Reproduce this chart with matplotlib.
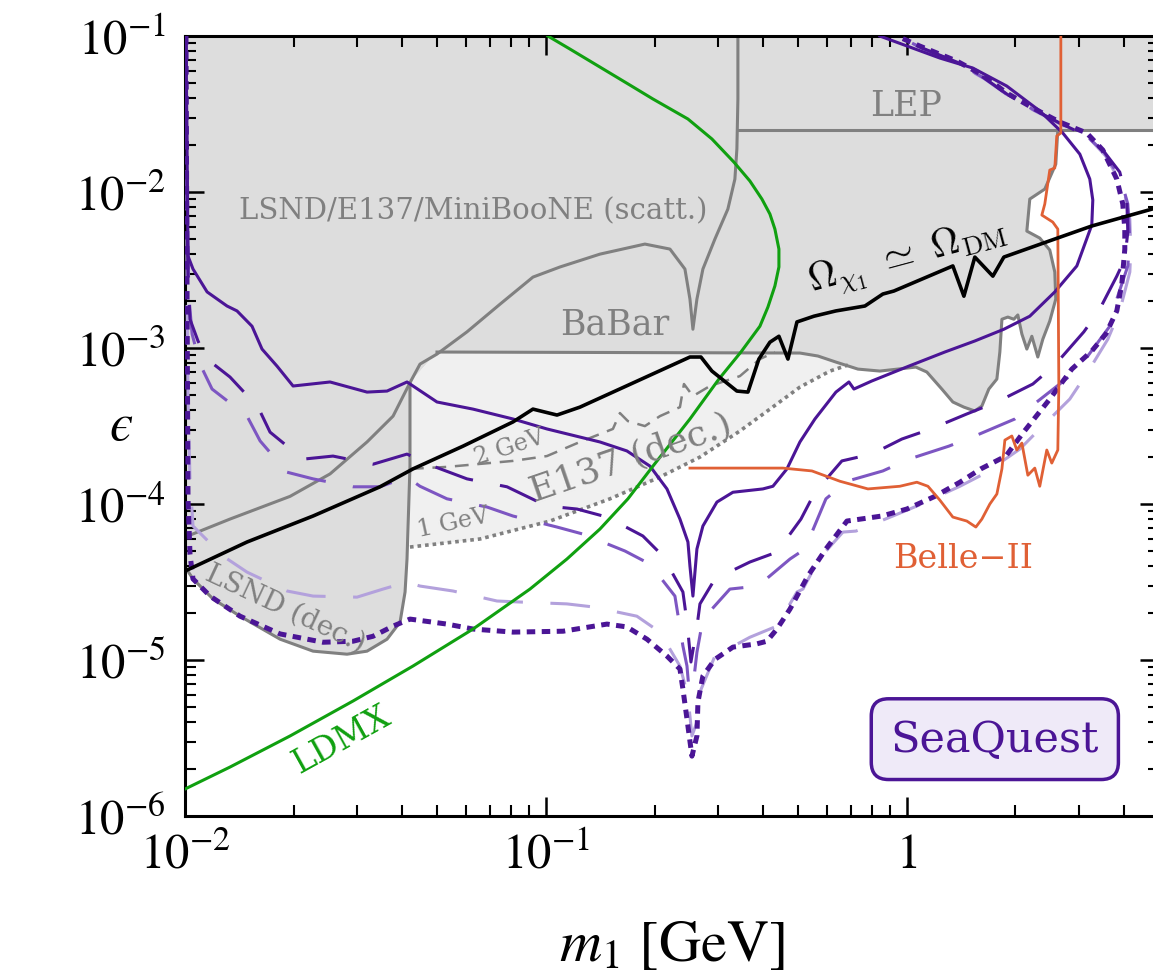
import numpy as np
import matplotlib
matplotlib.use('Agg')
import matplotlib.pyplot as plt
from matplotlib.ticker import FixedLocator, LogLocator, NullFormatter

plt.rcParams['font.family'] = ['STIXGeneral', 'DejaVu Serif']
plt.rcParams['mathtext.fontset'] = 'stix'

# ---------------- existing limits ----------------
# LSND/E137/MiniBooNE scattering boundary (runs up into the vertical edge at ~0.34 GeV)
scatt_m = [0.0100, 0.01332, 0.01954, 0.02522, 0.03193, 0.0377, 0.0420, 0.04477, 0.0499, 0.06042,
           0.07458, 0.09204, 0.1094, 0.1411, 0.188, 0.2206, 0.2427, 0.2506, 0.2554, 0.262,
           0.2722, 0.2939, 0.3192, 0.3338, 0.3381, 0.3403, 0.3403]
scatt_eps = [6.14e-5, 8.01e-5, 1.12e-4, 1.56e-4, 2.50e-4, 3.66e-4, 6.0e-4, 7.89e-4, 9.15e-4, 1.27e-3,
             1.91e-3, 2.85e-3, 3.31e-3, 4.00e-3, 4.64e-3, 4.31e-3, 3.21e-3, 2.06e-3, 1.32e-3, 2.06e-3,
             3.21e-3, 5.00e-3, 7.78e-3, 1.21e-2, 1.89e-2, 3.95e-2, 0.1]

# LSND decay region, lower edge
lsnd_m = [0.0100, 0.01052, 0.01196, 0.0142, 0.01834, 0.02263, 0.02811, 0.03193, 0.03628, 0.03942,
          0.0407, 0.04121, 0.0420, 0.0420]
lsnd_eps = [3.95e-5, 3.31e-5, 2.46e-5, 1.91e-5, 1.36e-5, 1.14e-5, 1.09e-5, 1.14e-5, 1.36e-5, 1.75e-5,
            2.73e-5, 4.44e-5, 1.75e-4, 6.0e-4]

# BaBar lower edge
babar_m = [0.0499, 0.5055, 0.567, 0.636, 0.7318, 0.8419, 1.059, 1.136, 1.25, 1.341,
           1.439, 1.543, 1.614, 1.687, 1.776, 1.81, 1.834, 1.905, 1.979, 2.03,
           2.083, 2.15, 2.22, 2.306, 2.381, 2.489, 2.586, 2.57, 2.489, 2.335,
           2.15, 2.191, 2.411, 2.586, 2.62]
babar_eps = [9.43e-4, 9.29e-4, 8.89e-4, 8.13e-4, 7.33e-4, 7.12e-4, 7.55e-4, 7.02e-4, 5.46e-4, 4.51e-4,
             4.18e-4, 3.95e-4, 4.25e-4, 5.46e-4, 6.33e-4, 9.43e-4, 1.53e-3, 1.58e-3, 1.53e-3, 1.63e-3,
             1.23e-3, 9.85e-4, 1.19e-3, 8.76e-4, 1.14e-3, 1.49e-3, 2.06e-3, 3.07e-3, 4.25e-3, 5.07e-3,
             5.62e-3, 9.02e-3, 1.045e-2, 1.51e-2, 0.025]

lep_m = [0.3403, 5.0]
lep_eps = [0.025, 0.025]

# E137 decay, 1 GeV (dotted) and 2 GeV (dashed)
e137_1gev_m = [0.042, 0.06566, 0.1026, 0.1504, 0.2069, 0.2671, 0.3447, 0.4174, 0.5055, 0.6122, 0.6867]
e137_1gev_eps = [5.30e-5, 5.97e-5, 7.78e-5, 1.08e-4, 1.49e-4, 2.00e-4, 2.94e-4, 4.06e-4, 5.62e-4, 7.12e-4, 7.78e-4]

e137_2gev_m = [0.042, 0.05318, 0.08101, 0.1006, 0.1242, 0.1533, 0.1603, 0.1687, 0.188, 0.2069,
               0.2351, 0.2412, 0.2554, 0.2847, 0.3447, 0.3916, 0.4309]
e137_2gev_eps = [1.68e-4, 1.73e-4, 1.89e-4, 2.03e-4, 2.50e-4, 3.03e-4, 3.83e-4, 3.40e-4, 3.16e-4, 3.66e-4,
                 4.18e-4, 5.88e-4, 4.92e-4, 5.71e-4, 6.61e-4, 8.50e-4, 9.43e-4]

# thermal relic target
relic_m = [0.0100, 0.01485, 0.02263, 0.03469, 0.04281, 0.0589, 0.08101, 0.09204, 0.1073, 0.1242,
           0.2506, 0.2688, 0.2883, 0.3381, 0.3628, 0.389, 0.4174, 0.4421, 0.4683, 0.496,
           0.5528, 0.636, 0.7653, 0.858, 0.9204, 1.341, 1.439, 1.543, 1.731, 1.857,
           2.57, 3.254, 5.0]
relic_eps = [3.72e-5, 5.71e-5, 8.38e-5, 1.29e-4, 1.68e-4, 2.35e-4, 3.36e-4, 4.06e-4, 3.72e-4, 4.18e-4,
             8.76e-4, 8.76e-4, 7.12e-4, 5.30e-4, 5.22e-4, 8.50e-4, 1.09e-3, 1.19e-3, 8.50e-4, 1.47e-3,
             1.60e-3, 1.73e-3, 1.86e-3, 2.22e-3, 2.32e-3, 3.36e-3, 2.15e-3, 3.83e-3, 2.89e-3, 3.83e-3,
             5.00e-3, 6.06e-3, 8.01e-3]

# ---------------- projections ----------------
ldmx_m = [0.1013, 0.1166, 0.1411, 0.1709, 0.1979, 0.2474, 0.2883, 0.3317, 0.3674, 0.3966,
          0.4174, 0.4309, 0.4421, 0.4421, 0.4309, 0.4121, 0.3916, 0.3469, 0.3015, 0.2506,
          0.1979, 0.1687, 0.1411, 0.1143, 0.0903, 0.06279, 0.04281, 0.0292, 0.01954, 0.01332,
          0.0100]
ldmx_eps = [0.1, 0.0825, 0.0633, 0.0485, 0.0395, 0.0294, 0.0219, 0.01556, 0.01177, 9.02e-3,
            7.23e-3, 5.79e-3, 4.31e-3, 3.31e-3, 2.50e-3, 1.83e-3, 1.38e-3, 9.43e-4, 6.33e-4, 3.51e-4,
            1.75e-4, 1.08e-4, 6.91e-5, 4.44e-5, 2.85e-5, 1.58e-5, 9.15e-6, 5.46e-6, 3.26e-6, 2.06e-6,
            1.49e-6]

belle_m = [0.2506, 0.4535, 0.5458, 0.6524, 0.7801, 0.9563, 1.066, 1.144, 1.234, 1.341,
           1.466, 1.553, 1.614, 1.698, 1.776, 1.834, 1.869, 1.954, 2.017, 2.083,
           2.164, 2.262, 2.335, 2.442, 2.521, 2.62, 2.637, 2.62, 2.537, 2.366,
           2.411, 2.489, 2.57, 2.603, 2.671, 2.671]
belle_eps = [1.70e-4, 1.70e-4, 1.63e-4, 1.40e-4, 1.25e-4, 1.30e-4, 1.38e-4, 1.30e-4, 1.06e-4, 8.25e-5,
             7.78e-5, 7.12e-5, 8.01e-5, 1.00e-4, 1.16e-4, 1.68e-4, 2.57e-4, 2.73e-4, 2.22e-4, 2.46e-4,
             1.53e-4, 1.70e-4, 1.30e-4, 2.22e-4, 1.83e-4, 2.22e-4, 5.71e-4, 5.79e-3, 6.42e-3, 7.12e-3,
             8.38e-3, 1.384e-2, 1.426e-2, 2.29e-2, 2.39e-2, 0.1]

# SeaQuest reach curves
sq_solid_m = [0.01006, 0.01013, 0.01019, 0.01052, 0.01151, 0.01307, 0.01393, 0.01533, 0.01634, 0.01798,
              0.01992, 0.02522, 0.03193, 0.03628, 0.04121, 0.0499, 0.06279, 0.08101, 0.1006, 0.1411,
              0.1676, 0.1942, 0.2164, 0.2351, 0.2474, 0.2506, 0.2554, 0.262, 0.2722, 0.2977,
              0.3296, 0.3991, 0.4255, 0.4653, 0.5055, 0.5563, 0.636, 0.691, 0.7134, 0.7998,
              1.013, 1.274, 1.543, 1.857, 2.191, 2.57, 2.958, 3.254, 3.275, 3.213,
              3.015, 2.705, 2.335, 1.892, 1.523, 1.234, 0.842]
sq_solid_eps = [0.1, 0.0189, 3.89e-3, 3.21e-3, 2.29e-3, 1.86e-3, 1.73e-3, 1.38e-3, 9.85e-4, 7.66e-4,
                5.71e-4, 6.06e-4, 5.22e-4, 5.30e-4, 6.06e-4, 4.51e-4, 4.06e-4, 3.51e-4, 3.03e-4, 2.50e-4,
                2.19e-4, 1.75e-4, 1.25e-4, 8.01e-5, 5.71e-5, 4.00e-5, 2.57e-5, 5.15e-5, 7.23e-5, 1.03e-4,
                1.19e-4, 1.25e-4, 1.30e-4, 1.68e-4, 2.50e-4, 3.51e-4, 5.22e-4, 6.06e-4, 5.46e-4, 6.15e-4,
                7.66e-4, 9.43e-4, 1.11e-3, 1.32e-3, 1.60e-3, 2.29e-3, 3.36e-3, 6.15e-3, 8.89e-3, 1.211e-2,
                1.75e-2, 2.39e-2, 3.31e-2, 4.78e-2, 6.24e-2, 7.23e-2, 0.1]

sq_dash1_m = [0.01006, 0.01013, 0.01019, 0.01032, 0.01086, 0.01151, 0.01332, 0.01593, 0.0172, 0.02123,
              0.0257, 0.03317, 0.04121, 0.04864, 0.06042, 0.07798, 0.1006, 0.1219, 0.1476, 0.1856,
              0.2109, 0.2396, 0.2459, 0.2522, 0.262, 0.2671, 0.2939, 0.3674, 0.4365, 0.5088,
              0.5563, 0.6607, 0.7556, 0.8526, 0.9686, 1.166, 1.466, 1.776, 2.234, 2.57,
              3.093, 3.403, 3.817, 4.017, 4.095, 4.069, 3.89, 3.491, 3.152, 2.654,
              2.234, 1.892, 1.624, 1.376, 1.122, 0.9382]
sq_dash1_eps = [0.1, 9.02e-3, 2.77e-3, 1.53e-3, 1.11e-3, 8.50e-4, 6.52e-4, 4.18e-4, 2.89e-4, 1.94e-4,
                2.03e-4, 1.80e-4, 2.09e-4, 1.75e-4, 1.45e-4, 1.29e-4, 9.71e-5, 9.29e-5, 8.25e-5, 6.24e-5,
                4.64e-5, 2.73e-5, 1.75e-5, 9.71e-6, 1.63e-5, 2.29e-5, 3.31e-5, 4.25e-5, 4.92e-5, 8.01e-5,
                1.19e-4, 1.89e-4, 2.03e-4, 2.25e-4, 2.61e-4, 3.03e-4, 3.78e-4, 4.51e-4, 5.88e-4, 7.78e-4,
                1.27e-3, 1.73e-3, 2.89e-3, 3.72e-3, 5.54e-3, 8.89e-3, 1.343e-2, 1.86e-2, 2.29e-2, 2.77e-2,
                3.40e-2, 4.25e-2, 5.46e-2, 6.81e-2, 8.25e-2, 0.1]

sq_dash2_m = [0.01006, 0.01013, 0.01026, 0.01046, 0.011, 0.01188, 0.01485, 0.01614, 0.01917, 0.02263,
              0.0292, 0.03469, 0.04121, 0.04477, 0.05318, 0.06865, 0.08101, 0.1073, 0.1266, 0.1655,
              0.1942, 0.2277, 0.2396, 0.2459, 0.249, 0.2554, 0.262, 0.2722, 0.3233, 0.3866,
              0.4743, 0.5219, 0.5967, 0.6823, 0.858, 1.013, 1.307, 1.543, 1.992, 2.291,
              2.828, 3.172, 3.651, 3.817, 4.095, 4.148, 4.095, 3.915, 3.52, 3.172,
              2.671, 2.248, 1.905, 1.634, 1.39, 1.13, 0.944]
sq_dash2_eps = [0.1, 6.71e-3, 2.06e-3, 1.23e-3, 7.89e-4, 5.46e-4, 3.66e-4, 2.54e-4, 1.60e-4, 1.45e-4,
                1.29e-4, 1.29e-4, 1.49e-4, 1.30e-4, 1.08e-4, 9.57e-5, 8.38e-5, 7.12e-5, 6.42e-5, 5.00e-5,
                4.12e-5, 2.57e-5, 1.23e-5, 9.15e-6, 6.52e-6, 6.71e-6, 1.12e-5, 1.83e-5, 2.85e-5, 2.98e-5,
                4.44e-5, 5.15e-5, 1.08e-4, 1.40e-4, 1.63e-4, 1.94e-4, 2.35e-4, 2.73e-4, 3.51e-4, 4.51e-4,
                6.61e-4, 8.89e-4, 1.38e-3, 2.06e-3, 3.36e-3, 5.00e-3, 8.38e-3, 1.211e-2, 1.80e-2, 2.25e-2,
                2.73e-2, 3.36e-2, 4.19e-2, 5.38e-2, 6.71e-2, 8.13e-2, 0.1]

sq_dash3_m = [0.01006, 0.01013, 0.01019, 0.01032, 0.01052, 0.01274, 0.01485, 0.01917, 0.02263, 0.02995,
              0.03536, 0.04121, 0.04477, 0.05526, 0.07317, 0.08637, 0.1143, 0.135, 0.1786, 0.2069,
              0.2351, 0.2474, 0.2538, 0.262, 0.2671, 0.2939, 0.3674, 0.4365, 0.496, 0.5153,
              0.5706, 0.665, 0.7226, 0.9146, 1.066, 1.403, 1.634, 2.056, 2.335, 2.828,
              3.172, 3.605, 3.89, 4.148, 4.174, 4.148, 3.99, 3.559, 3.213, 2.705,
              2.262, 1.918, 1.645, 1.39, 1.136, 0.95]
sq_dash3_eps = [0.1, 2.06e-3, 4.71e-4, 1.45e-4, 7.23e-5, 4.64e-5, 3.66e-5, 2.77e-5, 2.57e-5, 2.53e-5,
                2.85e-5, 3.16e-5, 2.98e-5, 2.77e-5, 2.39e-5, 2.35e-5, 2.29e-5, 2.19e-5, 1.91e-5, 1.51e-5,
                9.15e-6, 5.88e-6, 3.26e-6, 4.00e-6, 6.24e-6, 1.06e-5, 1.40e-5, 1.65e-5, 2.73e-5, 2.85e-5,
                4.44e-5, 6.61e-5, 6.71e-5, 8.38e-5, 9.71e-5, 1.30e-4, 1.56e-4, 2.25e-4, 3.03e-4, 4.71e-4,
                7.02e-4, 1.14e-3, 1.73e-3, 3.07e-3, 4.31e-3, 6.71e-3, 1.045e-2, 1.70e-2, 2.19e-2, 2.69e-2,
                3.31e-2, 4.12e-2, 5.30e-2, 6.61e-2, 8.01e-2, 0.1]

sq_dot_m = [0.01006, 0.01013, 0.01019, 0.01032, 0.01052, 0.01173, 0.0142, 0.01834, 0.02412, 0.0292,
            0.03317, 0.0377, 0.042, 0.05318, 0.06279, 0.08101, 0.1115, 0.1476, 0.1676, 0.1905,
            0.2164, 0.2351, 0.2396, 0.2459, 0.2538, 0.262, 0.2637, 0.2722, 0.2939, 0.3296,
            0.3841, 0.4095, 0.4365, 0.4743, 0.532, 0.5967, 0.6823, 0.8526, 1.0, 1.196,
            1.403, 1.603, 1.881, 2.096, 2.489, 2.865, 3.254, 3.559, 3.817, 3.941,
            4.017, 4.017, 3.966, 3.817, 3.491, 3.152, 2.654, 2.234, 1.892, 1.624,
            1.376, 1.086, 0.9382]
sq_dot_eps = [0.1, 2.06e-3, 1.08e-4, 4.78e-5, 3.31e-5, 2.57e-5, 1.91e-5, 1.47e-5, 1.30e-5, 1.32e-5,
              1.42e-5, 1.65e-5, 1.83e-5, 1.70e-5, 1.58e-5, 1.51e-5, 1.53e-5, 1.70e-5, 1.63e-5, 1.36e-5,
              1.06e-5, 8.76e-6, 6.52e-6, 4.19e-6, 2.42e-6, 3.26e-6, 5.38e-6, 7.90e-6, 1.01e-5, 1.21e-5,
              1.27e-5, 1.32e-5, 1.58e-5, 2.12e-5, 3.46e-5, 5.15e-5, 7.78e-5, 8.38e-5, 9.29e-5, 1.12e-4,
              1.38e-4, 1.68e-4, 2.03e-4, 2.85e-4, 4.71e-4, 7.33e-4, 9.57e-4, 1.23e-3, 1.73e-3, 2.57e-3,
              4.31e-3, 5.79e-3, 8.38e-3, 1.211e-2, 1.86e-2, 2.39e-2, 2.81e-2, 3.46e-2, 4.31e-2, 5.62e-2,
              6.91e-2, 8.63e-2, 0.1]

x_ticks = [0.01, 0.1, 1.0]
x_ticklabels = [r'$10^{-2}$', r'$10^{-1}$', r'$1$']
y_ticks = [1e-6, 1e-5, 1e-4, 1e-3, 1e-2, 1e-1]
y_ticklabels = [r'$10^{-6}$', r'$10^{-5}$', r'$10^{-4}$', r'$10^{-3}$', r'$10^{-2}$', r'$10^{-1}$']

gray = '#808080'
fill_dark = '#dddddd'
fill_light = '#f0f0f0'
purple_dark = '#4b1596'
purple_mid = '#7d56c2'
purple_light = '#b3a1dc'
green = '#10a010'
orange = '#e06035'

fig = plt.figure(figsize=(11.53, 9.78), dpi=100)
ax = fig.add_axes([0.1605, 0.1646, 0.8448, 0.7975])
ax.set_xscale('log')
ax.set_yscale('log')
ax.set_xlim(0.01, 5.0)
ax.set_ylim(1e-6, 0.1)

babar_m_a = np.array(babar_m)
babar_eps_a = np.array(babar_eps)
lsnd_m_a = np.array(lsnd_m)
lsnd_eps_a = np.array(lsnd_eps)

# shaded excluded region: everything above BaBar/LEP plus LSND decay pocket
dark_m = np.concatenate([[0.01, 5.0, 5.0], babar_m_a[::-1], lsnd_m_a[::-1]])
dark_eps = np.concatenate([[0.1, 0.1, lep_eps[1]], babar_eps_a[::-1], lsnd_eps_a[::-1]])
ax.fill(dark_m, dark_eps, color=fill_dark, lw=0, zorder=1)

# E137 decay pocket between the 1 GeV line and BaBar
low = babar_m_a < 0.65
light_m = np.concatenate([e137_1gev_m, babar_m_a[low][::-1], [lsnd_m[-1]]])
light_eps = np.concatenate([e137_1gev_eps, babar_eps_a[low][::-1], [lsnd_eps[-1]]])
ax.fill(light_m, light_eps, color=fill_light, lw=0, zorder=1)

ax.plot(scatt_m, scatt_eps, color=gray, lw=2.2, zorder=2)
ax.plot(lsnd_m, lsnd_eps, color=gray, lw=2.2, zorder=2)
ax.plot(babar_m, babar_eps, color=gray, lw=2.2, zorder=2)
ax.plot(lep_m, lep_eps, color=gray, lw=2.2, zorder=2)
ax.plot(e137_1gev_m, e137_1gev_eps, color=gray, lw=2.6, dashes=(1.0, 1.1), zorder=2)
ax.plot(e137_2gev_m, e137_2gev_eps, color=gray, lw=1.8, dashes=(5.5, 3.5), zorder=2)

# SeaQuest
ax.plot(sq_dash3_m, sq_dash3_eps, color=purple_light, lw=2.2, dashes=(13, 9), zorder=3)
ax.plot(sq_dash2_m, sq_dash2_eps, color=purple_mid, lw=2.2, dashes=(13, 9), zorder=3)
ax.plot(sq_dash1_m, sq_dash1_eps, color=purple_dark, lw=2.2, dashes=(13, 9), zorder=3)
ax.plot(sq_dot_m, sq_dot_eps, color=purple_dark, lw=3.6, dashes=(1.7, 1.3), zorder=3)
ax.plot(sq_solid_m, sq_solid_eps, color=purple_dark, lw=2.2, zorder=3)

ax.plot(belle_m, belle_eps, color=orange, lw=2.0, zorder=4)
ax.plot(ldmx_m, ldmx_eps, color=green, lw=2.2, zorder=4)
ax.plot(relic_m, relic_eps, color='black', lw=2.6, zorder=5)

serif = 'DejaVu Serif'
ax.text(0.0628, 7.67e-3, 'LSND/E137/MiniBooNE (scatt.)', color=gray, fontsize=21,
        family=serif, ha='center', va='center', zorder=6)
ax.text(0.1552, 1.43e-3, 'BaBar', color=gray, fontsize=25, family=serif,
        ha='center', va='center', zorder=6)
ax.text(0.993, 0.0361, 'LEP', color=gray, fontsize=25, family=serif,
        ha='center', va='center', zorder=6)
ax.text(0.172, 2.0e-4, 'E137 (dec.)', color=gray, fontsize=26, family=serif,
        ha='center', va='center', rotation=19, rotation_mode='anchor', zorder=6)
ax.text(0.0794, 2.32e-4, '2 GeV', color=gray, fontsize=17, family=serif,
        ha='center', va='center', rotation=18, rotation_mode='anchor', zorder=6)
ax.text(0.0553, 7.67e-5, '1 GeV', color=gray, fontsize=17, family=serif,
        ha='center', va='center', rotation=12, rotation_mode='anchor', zorder=6)
ax.text(0.01892, 2.15e-5, 'LSND (dec.)', color=gray, fontsize=20, family=serif,
        ha='center', va='center', rotation=-25, rotation_mode='anchor', zorder=6)
ax.text(1.007, 3.89e-3, r'$\Omega_{\chi_1}\ \simeq\ \Omega_{\rm DM}$', color='black',
        fontsize=28, math_fontfamily='cm', ha='center', va='center',
        rotation=15, rotation_mode='anchor', zorder=6)
ax.text(0.0272, 3.1e-6, 'LDMX', color=green, fontsize=24, family=serif,
        ha='center', va='center', rotation=29, rotation_mode='anchor', zorder=6)
ax.text(1.43, 4.5e-5, 'Belle\u2212II', color=orange, fontsize=24, family=serif,
        ha='center', va='center', zorder=6)
ax.text(1.753, 3.11e-6, 'SeaQuest', color=purple_dark, fontsize=31, family=serif,
        ha='center', va='center', zorder=6,
        bbox=dict(boxstyle='round,pad=0.45,rounding_size=0.4', fc='#efeaf8',
                  ec=purple_dark, lw=2.5))

ax.xaxis.set_major_locator(FixedLocator(x_ticks))
ax.set_xticklabels(x_ticklabels)
ax.yaxis.set_major_locator(FixedLocator(y_ticks))
ax.set_yticklabels(y_ticklabels)
ax.xaxis.set_minor_locator(LogLocator(base=10, subs=np.arange(2, 10), numticks=20))
ax.yaxis.set_minor_locator(LogLocator(base=10, subs=np.arange(2, 10), numticks=20))
ax.xaxis.set_minor_formatter(NullFormatter())
ax.yaxis.set_minor_formatter(NullFormatter())
ax.tick_params(which='both', direction='in', top=True, right=True, labelsize=35)
ax.tick_params(which='major', length=14, width=1.8)
ax.tick_params(which='minor', length=8, width=1.5)
ax.tick_params(axis='x', which='major', pad=12)
ax.tick_params(axis='y', which='major', pad=14)
for sp in ax.spines.values():
    sp.set_linewidth(2.2)

ax.set_xlabel(r'$m_1$ [GeV]', fontsize=42, labelpad=30)
ax.set_ylabel('$\u03f5$', fontsize=38, rotation=0, va='center')
ax.yaxis.set_label_coords(-0.066, 0.5)

fig.savefig('out.png', dpi=100)
